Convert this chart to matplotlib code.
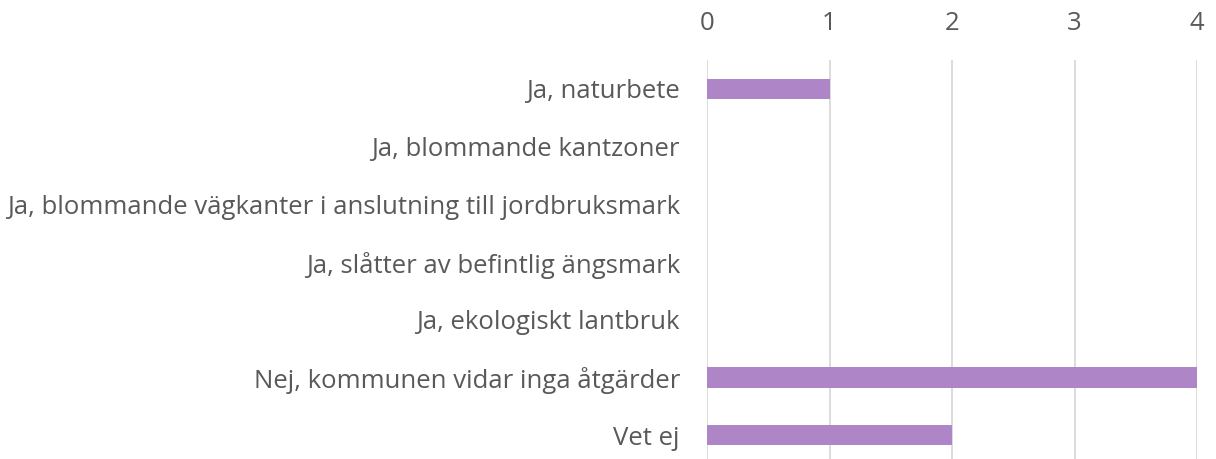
import matplotlib
matplotlib.use('Agg')
from matplotlib import pyplot as plt

# Survey answers and counts
categories = [
    'Ja, naturbete',
    'Ja, blommande kantzoner',
    'Ja, blommande vägkanter i anslutning till jordbruksmark',
    'Ja, slåtter av befintlig ängsmark',
    'Ja, ekologiskt lantbruk',
    'Nej, kommunen vidar inga åtgärder',
    'Vet ej',
]
counts = [1, 0, 0, 0, 0, 4, 2]
ticks = [0, 1, 2, 3, 4]

plt.rcParams['font.family'] = ['Open Sans', 'DejaVu Sans']
text_color = '#595959'

fig = plt.figure(figsize=(12.16, 4.59), dpi=100)
ax = fig.add_axes([707 / 1216, 0, 490 / 1216, 399 / 459])

pos = list(range(len(categories)))
ax.barh(pos, counts, height=0.35, color='#AE86C8', zorder=3)

ax.set_xlim(0, 4)
ax.set_ylim(6.5 - 5 / 57.7, -0.5)
ax.set_xticks(ticks)
ax.set_yticks(pos)
ax.set_yticklabels(categories)
ax.xaxis.tick_top()
ax.grid(axis='x', color='#D9D9D9', linewidth=1.3, zorder=0)
for side in ['top', 'right', 'bottom', 'left']:
    ax.spines[side].set_visible(False)
ax.tick_params(axis='both', length=0, labelsize=18.5, colors=text_color)
ax.tick_params(axis='y', pad=19.5)
ax.tick_params(axis='x', pad=17)

fig.savefig('out.png', dpi=100)
